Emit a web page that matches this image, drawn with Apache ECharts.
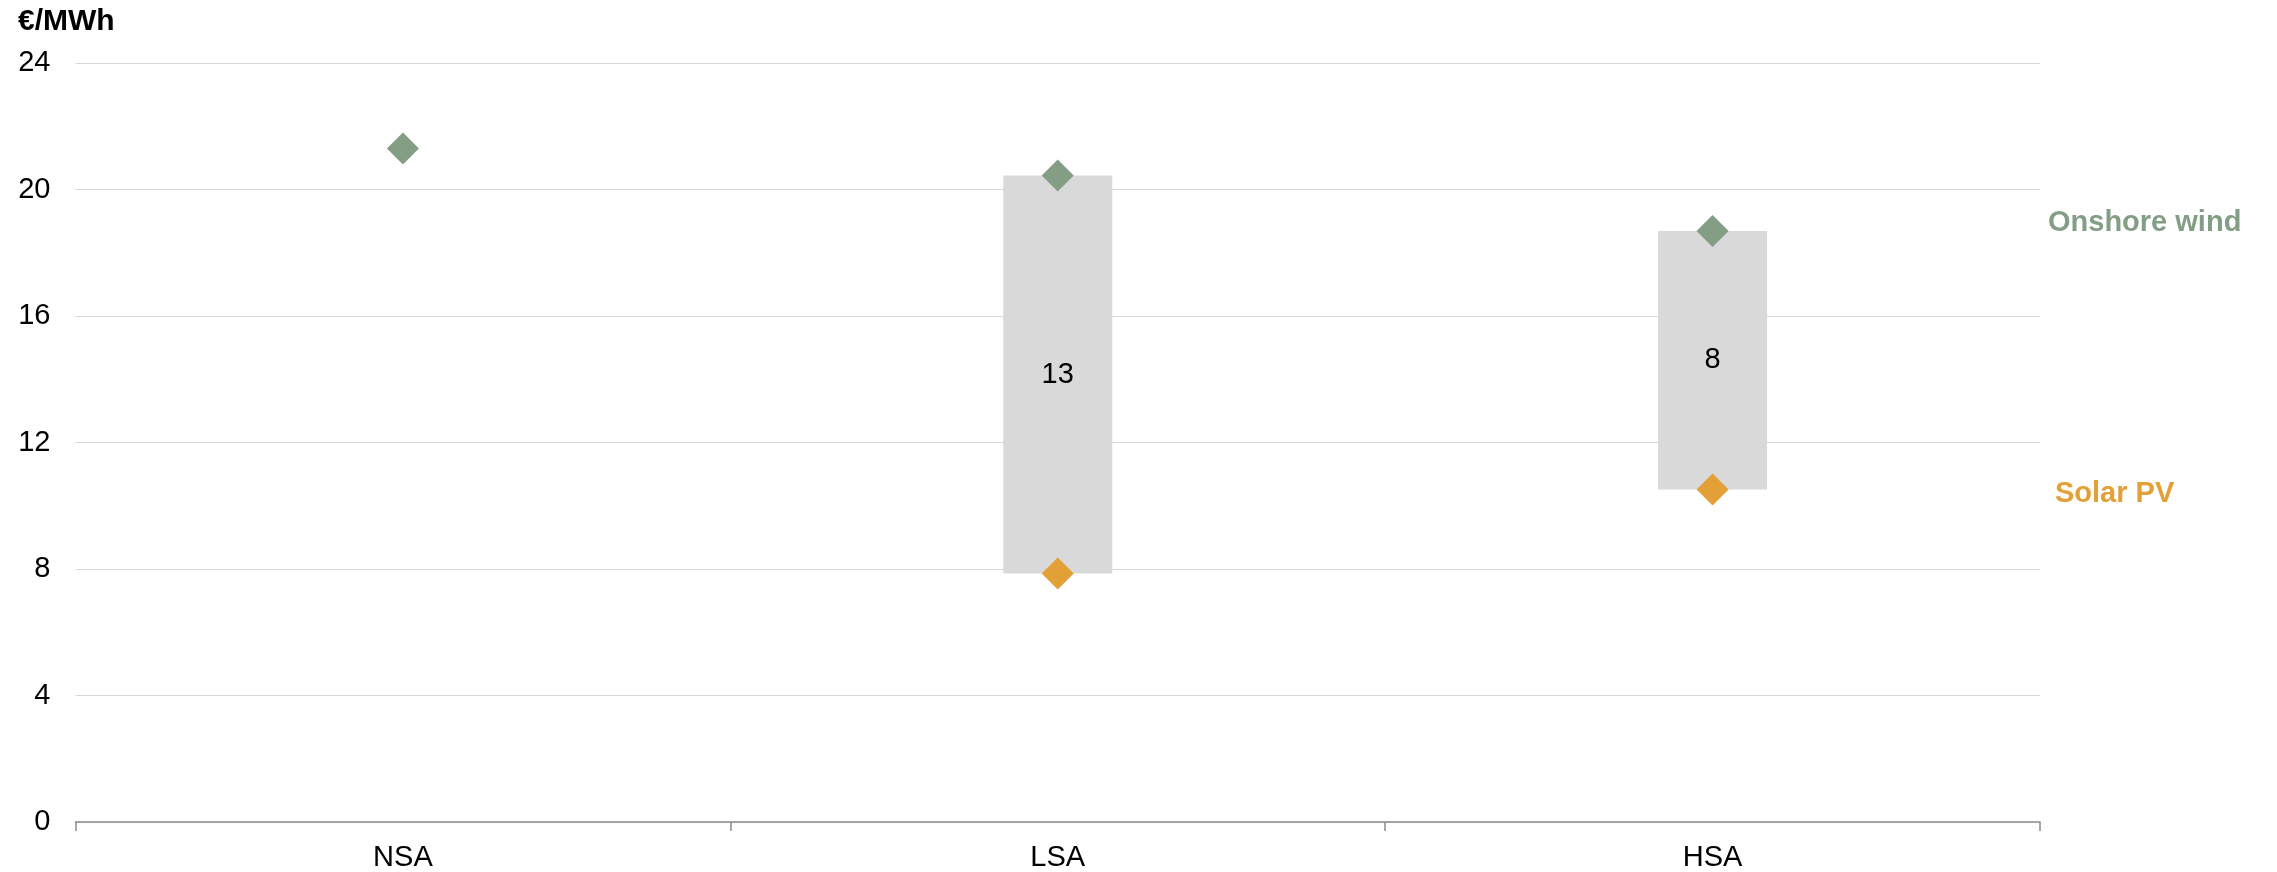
<!DOCTYPE html>
<html>
<head>
<meta charset="utf-8">
<title>Support levels by scheme</title>
<script src="https://cdn.jsdelivr.net/npm/echarts@6/dist/echarts.min.js"></script>
<style>
  html, body { margin: 0; padding: 0; background: #ffffff; }
  #chart { width: 2277px; height: 872px; }
</style>
</head>
<body>
<div id="chart"></div>
<script>
// Support schemes on the x axis
const categories = ['NSA', 'LSA', 'HSA'];
// Levels in €/MWh per technology (null where a scheme has no value)
const onshoreWind = [21.3, 20.44, 18.69];
const solarPV = [null, 7.86, 10.51];
// Value axis ticks
const yTicks = [0, 4, 8, 12, 16, 20, 24];

const GREEN = '#849e86';
const ORANGE = '#e3a037';
const FONT = '"Liberation Sans", Arial, sans-serif';

// Gap between the two technologies, drawn as a grey band from solar up to wind
const gapBase = solarPV.map((s, i) => (s == null || onshoreWind[i] == null) ? null : s);
const gapSize = solarPV.map((s, i) => (s == null || onshoreWind[i] == null) ? null : +(onshoreWind[i] - s).toFixed(2));

const chart = echarts.init(document.getElementById('chart'), null, { renderer: 'canvas' });

chart.setOption({
  animation: false,
  backgroundColor: '#ffffff',
  textStyle: { fontFamily: FONT },
  title: {
    text: '€/MWh',
    left: 13,
    top: 2,
    textStyle: { fontFamily: FONT, fontSize: 30, fontWeight: 'bold', color: '#000' }
  },
  grid: { left: 75.5, right: 237, top: 63, bottom: 49, containLabel: false },
  xAxis: {
    type: 'category',
    data: categories,
    boundaryGap: true,
    axisLine: { show: true, lineStyle: { color: '#8c8c8c', width: 1.5 } },
    axisTick: { show: true, length: 9, lineStyle: { color: '#8c8c8c', width: 1.5 } },
    axisLabel: { fontFamily: FONT, fontSize: 29, color: '#000', margin: 21 },
    splitLine: { show: false }
  },
  yAxis: {
    type: 'value',
    min: yTicks[0],
    max: yTicks[yTicks.length - 1],
    interval: yTicks[1] - yTicks[0],
    axisLine: { show: false },
    axisTick: { show: false },
    axisLabel: { fontFamily: FONT, fontSize: 29, color: '#000', margin: 25, padding: [3, 0, 0, 0] },
    splitLine: { show: true, lineStyle: { color: '#d9d9d9', width: 1.2 } }
  },
  series: [
    {
      name: 'base',
      type: 'bar',
      stack: 'gap',
      data: gapBase,
      barWidth: 109,
      itemStyle: { color: 'rgba(0,0,0,0)' },
      silent: true,
      z: 1
    },
    {
      name: 'gap',
      type: 'bar',
      stack: 'gap',
      data: gapSize,
      barWidth: 109,
      itemStyle: { color: '#d9d9d9' },
      label: {
        show: true,
        position: 'inside',
        fontFamily: FONT,
        fontSize: 29,
        color: '#000',
        formatter: p => (p.value == null ? '' : String(Math.round(p.value)))
      },
      z: 1
    },
    {
      name: 'Onshore wind',
      type: 'scatter',
      data: onshoreWind,
      symbol: 'diamond',
      symbolSize: [32, 32],
      itemStyle: { color: GREEN, opacity: 1 },
      z: 5
    },
    {
      name: 'Solar PV',
      type: 'scatter',
      data: solarPV,
      symbol: 'diamond',
      symbolSize: [32, 32],
      itemStyle: { color: ORANGE, opacity: 1 },
      z: 5
    }
  ],
  graphic: [
    {
      type: 'text',
      left: 2048,
      top: 208,
      style: { text: 'Onshore wind', fill: GREEN, font: 'bold 29px ' + FONT }
    },
    {
      type: 'text',
      left: 2055,
      top: 479,
      style: { text: 'Solar PV', fill: ORANGE, font: 'bold 29px ' + FONT }
    }
  ]
});
</script>
</body>
</html>
